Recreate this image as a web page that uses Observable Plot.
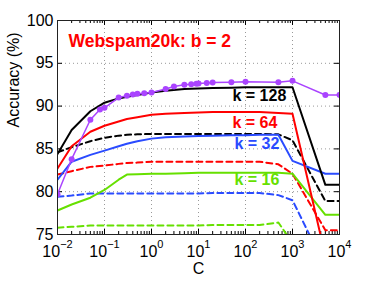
<!DOCTYPE html>
<html><head><meta charset="utf-8">
<script src="https://cdn.jsdelivr.net/npm/d3@7"></script>
<script src="https://cdn.jsdelivr.net/npm/@observablehq/plot@0.6"></script>
<style>body{margin:0;background:#fff} svg{display:block}</style>
</head><body><div id="chart"></div>
<script>
// ---- data ----
const C = [0.01,0.02,0.05,0.1,0.2,0.3,0.5,1,2,5,10,20,50,100,200,500,1000,5000,10000];
const k128Solid = [84.4,87.2,89.4,90.4,90.9,91.1,91.3,91.6,91.8,92.0,92.05,92.1,92.15,92.2,92.2,92.2,92.2,80.8,80.8];
const k64Solid  = [82.7,85.3,87.0,87.7,88.2,88.5,88.7,89.0,89.1,89.2,89.25,89.3,89.3,89.3,89.3,89.2,89.1,72.5,72.5];
const k32Solid  = [81.4,83.5,84.3,84.8,85.3,85.6,85.9,86.2,86.35,86.45,86.5,86.55,86.6,86.6,86.65,86.65,83.6,82.1,82.1];
const k16Solid  = [77.8,78.5,79.3,80.2,81.4,82.0,82.05,82.1,82.1,82.15,82.2,82.2,82.2,82.2,82.2,82.2,82.1,77.3,77.3];
const k128Dash  = [84.6,85.2,85.9,86.3,86.55,86.65,86.7,86.75,86.75,86.75,86.75,86.75,86.75,86.75,86.75,86.7,86.0,78.9,78.9];
const k64Dash   = [82.0,82.4,82.9,83.05,83.25,83.35,83.4,83.5,83.5,83.5,83.5,83.5,83.5,83.5,83.5,83.2,82.1,75.5,75.5];
const k32Dash   = [79.4,79.55,79.8,79.8,79.8,79.8,79.8,79.8,79.8,79.8,79.8,79.85,79.85,79.85,79.85,79.6,79.0,71.2,71.2];
const k16Dash   = [75.8,75.9,76.05,76.05,76.05,76.05,76.05,76.05,76.05,76.05,76.05,76.1,76.1,76.1,76.1,76.4,74.0,70,70];
const Cfull = [0.01,0.02,0.05,0.08,0.1,0.2,0.3,0.4,0.5,0.7,1,2,3,5,7,9,10,15,20,50,100,500,1000,5000,10000];
const accFull = [79.7,83.8,88.4,89.6,89.8,91.0,91.2,91.35,91.45,91.5,91.6,92.0,92.3,92.5,92.55,92.6,92.65,92.7,92.75,92.8,92.85,92.8,92.95,91.3,91.3];
const yTicks = [75,80,85,90,95,100];
const xExps = [-2,-1,0,1,2,3,4];
const labels = ["k = 128","k = 64","k = 32","k = 16"];
const labelC = [52.8,52.8,58.3,58.3];
const labelAcc = [91.2,88.05,85.6,81.4];
const titleText = "Webspam20k: b = 2";

// ---- layout ----
const W=374, H=281, mL=57, mR=35, mT=20, mB=47;
const fw=W-mL-mR, fh=H-mT-mB;
const colors = {k128:"#000000", k64:"#ff0000", k32:"#2a4bff", k16:"#66e000", full:"#aa44ff"};
const series = [
  {v:k16Dash, c:colors.k16, dash:true},
  {v:k32Dash, c:colors.k32, dash:true},
  {v:k64Dash, c:colors.k64, dash:true},
  {v:k128Dash, c:colors.k128, dash:true},
  {v:k16Solid, c:colors.k16, dash:false},
  {v:k32Solid, c:colors.k32, dash:false},
  {v:k128Solid, c:colors.k128, dash:false},
  {v:k64Solid, c:colors.k64, dash:false},
];
const xMajor = xExps.map(e => 10**e);
const xMinor = xExps.slice(0,-1).flatMap(e => d3.range(2,10).map(m => m*10**e));
const fullData = Cfull.map((c,i)=>({c, a:accFull[i]}));
const labelData = labels.map((t,i)=>({t, c:labelC[i], a:labelAcc[i], col:[colors.k128,colors.k64,colors.k32,colors.k16][i]}));

const lineMarks = series.map(s => Plot.line(C.map((c,i)=>({c, a:s.v[i]})), {
  x:"c", y:"a", stroke:s.c, strokeWidth:2, strokeDasharray: s.dash ? "6,4" : null, clip:true
}));

const plot = Plot.plot({
  width:W, height:H, marginLeft:mL, marginRight:mR, marginTop:mT, marginBottom:mB,
  style:{fontFamily:"'Liberation Sans', Arial, Helvetica, sans-serif", fontSize:"16px", background:"#fff", color:"#000"},
  x:{type:"log", domain:[0.01,10000]},
  y:{domain:[75,100]},
  marks:[
    Plot.gridX(xMajor, {stroke:"#999", strokeOpacity:1, strokeDasharray:"1,3"}),
    Plot.gridY(yTicks, {stroke:"#999", strokeOpacity:1, strokeDasharray:"1,3"}),
    Plot.gridX(xMajor, {stroke:"#000", strokeOpacity:1, insetTop:fh-5}),
    Plot.gridX(xMajor, {stroke:"#000", strokeOpacity:1, insetBottom:fh-5}),
    Plot.gridX(xMinor, {stroke:"#000", strokeOpacity:1, insetTop:fh-3}),
    Plot.gridX(xMinor, {stroke:"#000", strokeOpacity:1, insetBottom:fh-3}),
    Plot.gridY(yTicks, {stroke:"#000", strokeOpacity:1, insetRight:fw-5}),
    Plot.gridY(yTicks, {stroke:"#000", strokeOpacity:1, insetLeft:fw-5}),
    ...lineMarks,
    Plot.line(fullData, {x:"c", y:"a", stroke:colors.full, strokeWidth:1.5, clip:true}),
    Plot.dot(fullData, {x:"c", y:"a", r:3, fill:colors.full, clip:true}),
    Plot.frame({stroke:"#222", strokeWidth:1}),
    Plot.text(labelData, {x:"c", y:"a", text:"t", fill:"col", textAnchor:"start", fontSize:16, fontWeight:"bold"}),
    Plot.text([titleText], {x:()=>0.0171, y:()=>97.6, textAnchor:"start", fill:"#ff0000", fontSize:17.5, fontWeight:"bold"}),
    Plot.axisY(yTicks, {tickSize:0, tickPadding:4, fontSize:16, label:null}),
    Plot.axisX(xMajor, {tickSize:0, tickPadding:11, fontSize:16, label:null, tickFormat:d => "10^" + Math.round(Math.log10(d))}),
    Plot.text(["Accuracy (%)"], {frameAnchor:"left", dx:-44, rotate:-90, fontSize:16}),
    Plot.text(["C"], {frameAnchor:"bottom", dy:39, fontSize:16})
  ]
});

// superscript exponents in x tick labels
const NS = "http://www.w3.org/2000/svg";
plot.querySelectorAll('[aria-label="x-axis tick label"] text').forEach(t => {
  const s = t.textContent;
  if (!s.includes("^")) return;
  const [b, e] = s.split("^");
  t.textContent = b;
  const ts = document.createElementNS(NS, "tspan");
  ts.setAttribute("dy", "-9");
  ts.setAttribute("font-size", "11");
  ts.textContent = e.replace("-", "\u2212");
  t.appendChild(ts);
});
document.getElementById("chart").appendChild(plot);
</script>
</body></html>
